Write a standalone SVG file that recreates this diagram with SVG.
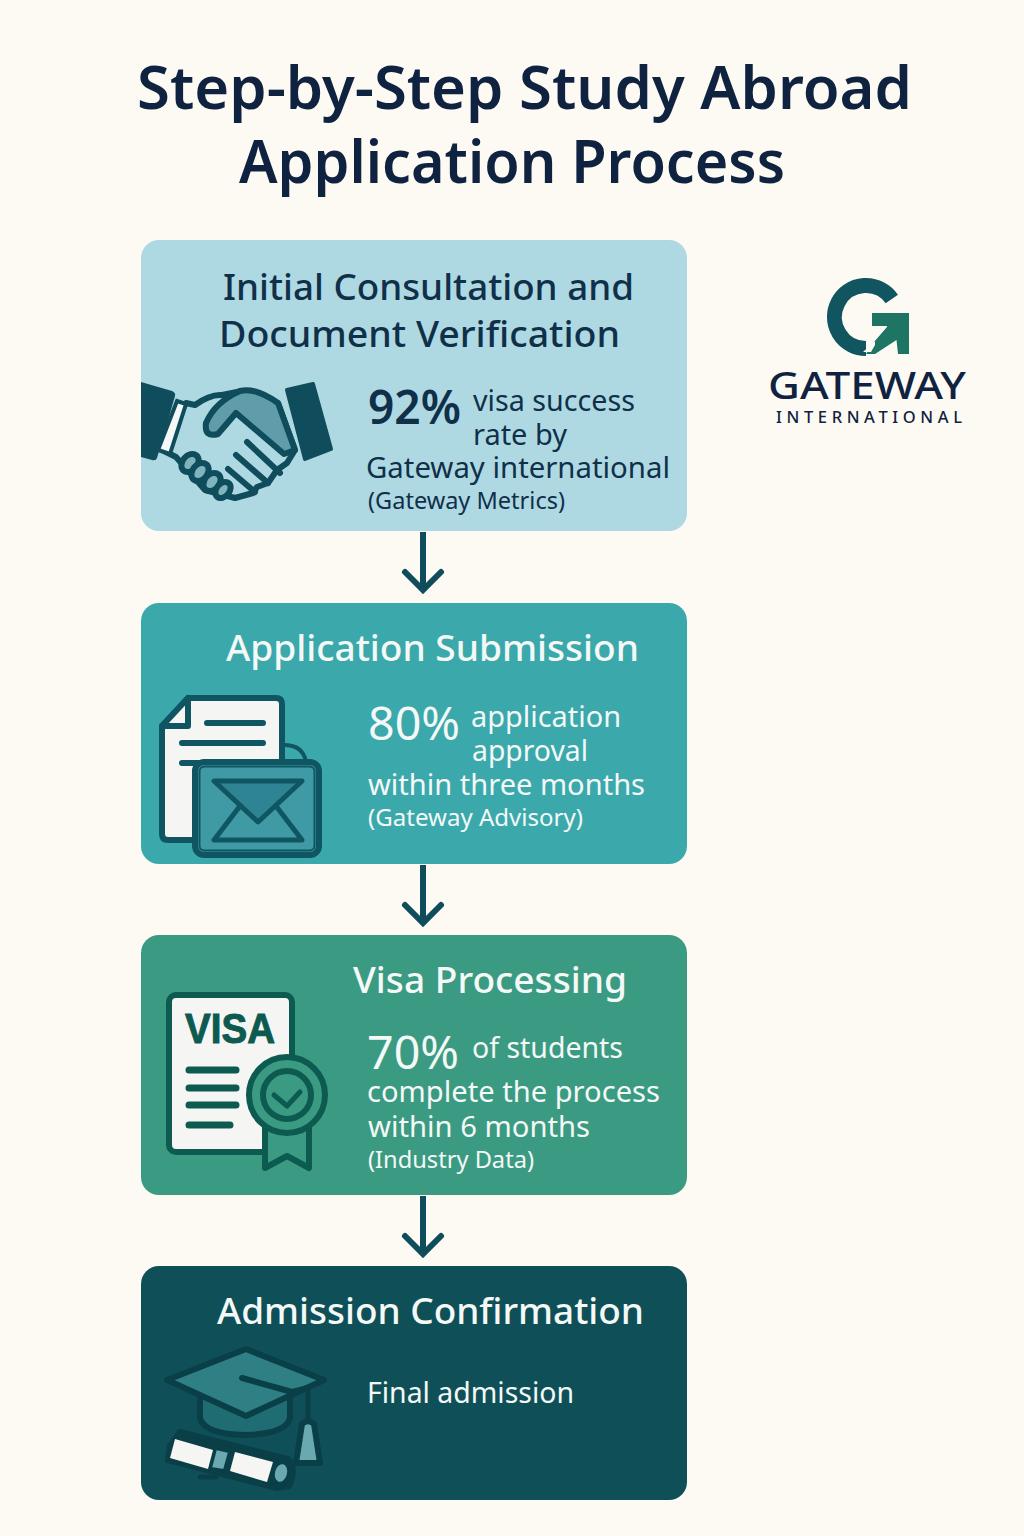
<svg xmlns="http://www.w3.org/2000/svg" width="1024" height="1536" viewBox="0 0 1024 1536">
<style>
text{font-family:"Noto Sans","Open Sans","Liberation Sans",sans-serif}
.title{font-size:60px;font-weight:600;fill:#0f2340}
.h{font-size:37px;font-weight:500}
.pct{font-size:46px}
.b{font-size:29px}
.s{font-size:24px}
.dk{fill:#10304a}
.lt{fill:#f4f8f6}
.cn{fill:none;stroke:#0f4c5c;stroke-width:6;stroke-linejoin:miter}
.hd{fill:none;stroke:#0f4c5c;stroke-width:6;stroke-linecap:round;stroke-linejoin:miter}
.ic{stroke-linejoin:round;stroke-linecap:round}
</style>
<rect width="1024" height="1536" fill="#fdfaf4"/>
<g id="title">
<text class="title" x="137" y="109" textLength="775" lengthAdjust="spacingAndGlyphs">Step-by-Step Study Abroad</text>
<text class="title" x="239" y="183" textLength="546" lengthAdjust="spacingAndGlyphs">Application Process</text>
</g>
<g id="logo">
<path d="M891.800 299A31.500 31.500 0 1 0 866 348.500" fill="none" stroke="#115560" stroke-width="15"/>
<path d="M872 313H909V354H898L896.500 340L875 354H866L874 342L887 327V326H872Z" fill="#1e7563"/>
<path d="M875 341L863 352L871 352L875 345Z" fill="#fdfaf4"/>
<text x="768" y="399" font-size="38" font-weight="500" fill="#0f2340" textLength="198" lengthAdjust="spacingAndGlyphs">GATEWAY</text>
<text x="776" y="423" font-size="16.500" font-weight="500" fill="#0f2340" textLength="186">INTERNATIONAL</text>
</g>
<g id="connectors">
<path class="cn" d="M423 532V590"/><path class="hd" d="M405 572L423 590L441 572"/>
<path class="cn" d="M423 865V923"/><path class="hd" d="M405 905L423 923L441 905"/>
<path class="cn" d="M423 1196V1254"/><path class="hd" d="M405 1236L423 1254L441 1236"/>
</g>
<g id="step1">
<rect x="141" y="240" width="546" height="291" rx="18" fill="#aed9e2"/>
<text class="h dk" x="223" y="300" textLength="411" lengthAdjust="spacingAndGlyphs">Initial Consultation and</text>
<text class="h dk" x="219" y="347" textLength="401" lengthAdjust="spacingAndGlyphs">Document Verification</text>
<g class="ic" stroke="#0f4c5c" stroke-width="6">
<path d="M186 403L195 405Q210 394 222 395L242 391L278 403L295 450L287 463L277 470L268 483L257 487L253 493L235 498L205 490L176 457L160 449Z" fill="#aed9e2"/>
<path d="M206 423Q215 402 240 391Q255 387 278 403L295 450L284 454L236 413L218 434Q204 438 206 423Z" fill="#5f9daa"/>
<path d="M247 442L280 473M236 455L268 483M228 469L255 492" fill="none"/>
<g fill="#7fb3bd"><ellipse cx="190" cy="463" rx="10" ry="7.500" transform="rotate(-50 190 463)"/><ellipse cx="200" cy="472" rx="10" ry="7.500" transform="rotate(-50 200 472)"/><ellipse cx="212" cy="482" rx="10" ry="7.500" transform="rotate(-50 212 482)"/><ellipse cx="223" cy="490" rx="9" ry="6.500" transform="rotate(-50 223 490)"/></g>
</g>
<path d="M141 382L172 391Q176 393 175 396L157 458Q156 461 152 460L141 457Z" fill="#0f4c5c"/>
<path d="M177 401L186 404L170 454L158 450Z" fill="#f4f8f6" stroke="#0f4c5c" stroke-width="4"/>
<path d="M287 390L313 384L331 449L305 459Z" fill="#0f4c5c" stroke="#0f4c5c" stroke-width="4" stroke-linejoin="round"/>
<text class="pct dk" font-weight="600" x="368" y="424" textLength="93" lengthAdjust="spacingAndGlyphs">92%</text>
<text class="b dk" x="473" y="411" textLength="162" lengthAdjust="spacingAndGlyphs">visa success</text>
<text class="b dk" x="473" y="445" textLength="94" lengthAdjust="spacingAndGlyphs">rate by</text>
<text class="b dk" x="366" y="478" textLength="304" lengthAdjust="spacingAndGlyphs">Gateway international</text>
<text class="s dk" x="368" y="509" textLength="197" lengthAdjust="spacingAndGlyphs">(Gateway Metrics)</text>
</g>
<g id="step2">
<rect x="141" y="603" width="546" height="261" rx="18" fill="#3ba9ac"/>
<text class="h lt" x="226" y="661" textLength="413" lengthAdjust="spacingAndGlyphs">Application Submission</text>
<g class="ic" stroke="#0f5662" stroke-width="6">
<path d="M284 745Q303 745 306 762" fill="none" stroke-width="4"/>
<path d="M188 698H276Q282 698 282 704V780H196V840H168Q162 840 162 834V726Z" fill="#f5f6f3"/>
<path d="M162 726L188 698V726Z" fill="#f5f6f3"/>
<path d="M207 723H263M182 743H263M182 763H200" fill="none"/>
<rect x="195" y="762" width="124" height="93" rx="9" fill="#3f9aa5"/>
<rect x="199.500" y="766.500" width="115" height="84" rx="5" fill="none" stroke-width="2"/>
<path d="M214 781H302L258 822Z" fill="#2f8494" stroke-width="5"/>
<path d="M240 806L214 840H302L276 806" fill="none" stroke-width="5"/>
</g>
<text class="pct lt" x="368" y="740" textLength="92" lengthAdjust="spacingAndGlyphs">80%</text>
<text class="b lt" x="471" y="727" textLength="150" lengthAdjust="spacingAndGlyphs">application</text>
<text class="b lt" x="472" y="761" textLength="116" lengthAdjust="spacingAndGlyphs">approval</text>
<text class="b lt" x="368" y="795" textLength="277" lengthAdjust="spacingAndGlyphs">within three months</text>
<text class="s lt" x="368" y="826" textLength="215" lengthAdjust="spacingAndGlyphs">(Gateway Advisory)</text>
</g>
<g id="step3">
<rect x="141" y="935" width="546" height="260" rx="18" fill="#3b9b82"/>
<text class="h lt" x="353" y="993" textLength="274" lengthAdjust="spacingAndGlyphs">Visa Processing</text>
<g class="ic" stroke="#0d5a50" stroke-width="6">
<rect x="169" y="995" width="123" height="157" rx="7" fill="#f5f6f3"/>
<path d="M265 1125V1168L287 1156L309 1168V1125Z" fill="#3b9b82"/>
<circle cx="287" cy="1095" r="38" fill="#3b9b82"/>
<circle cx="287" cy="1095" r="24" fill="#3b9b82"/>
<path d="M274 1095L287 1106L300 1092" fill="none" stroke-width="5"/>
<path d="M189 1070H236M189 1088H236M189 1105H236M189 1125H230" fill="none" stroke-width="7"/>
</g>
<text x="185" y="1043" style="font-family:'Liberation Sans',sans-serif" font-size="42" font-weight="700" fill="#0d5a50" stroke="#0d5a50" stroke-width="1" textLength="90" lengthAdjust="spacingAndGlyphs">VISA</text>
<text class="pct lt" x="367" y="1069" textLength="92" lengthAdjust="spacingAndGlyphs">70%</text>
<text class="b lt" x="472" y="1058" textLength="151" lengthAdjust="spacingAndGlyphs">of students</text>
<text class="b lt" x="367" y="1102" textLength="293" lengthAdjust="spacingAndGlyphs">complete the process</text>
<text class="b lt" x="368" y="1137" textLength="222" lengthAdjust="spacingAndGlyphs">within 6 months</text>
<text class="s lt" x="368" y="1168" textLength="166" lengthAdjust="spacingAndGlyphs">(Industry Data)</text>
</g>
<g id="step4">
<rect x="141" y="1266" width="546" height="234" rx="18" fill="#0f5058"/>
<text class="h lt" x="217" y="1324" textLength="427" lengthAdjust="spacingAndGlyphs">Admission Confirmation</text>
<g class="ic" stroke="#0a3f48" stroke-width="6">
<path d="M200 1396V1418Q204 1434 245 1435Q286 1434 290 1418V1394" fill="#1f6d72"/>
<path d="M246 1349L324 1380L246 1416L167 1380Z" fill="#2f8084"/>
<path d="M242 1378L292 1392L308 1388" fill="none"/>
<path d="M308 1390V1424" fill="none" stroke-width="5"/>
<path d="M302 1424Q308 1418 314 1424L320 1463H296Z" fill="#6aa9b0"/>
<path d="M170 1446L180 1432L288 1459Q297 1470 289 1486L277 1488L168 1460Z" fill="#0a3f48"/>
<path d="M175 1439L213 1450L208 1469L170 1458Z" fill="#f5f6f3" stroke="none"/>
<path d="M235 1452L273 1462L267 1482L230 1471Z" fill="#f5f6f3" stroke="none"/>
<path d="M216 1449L229 1452L224 1470L211 1468Z" fill="#6aa9b0" stroke-width="2"/>
<ellipse cx="281" cy="1473" rx="8" ry="11" transform="rotate(15 281 1473)" fill="#6aa9b0" stroke-width="4"/>
<path d="M200 1477H216" fill="none" stroke-width="5"/>
</g>
<text class="b lt" x="367" y="1403" textLength="207" lengthAdjust="spacingAndGlyphs">Final admission</text>
</g>
</svg>
